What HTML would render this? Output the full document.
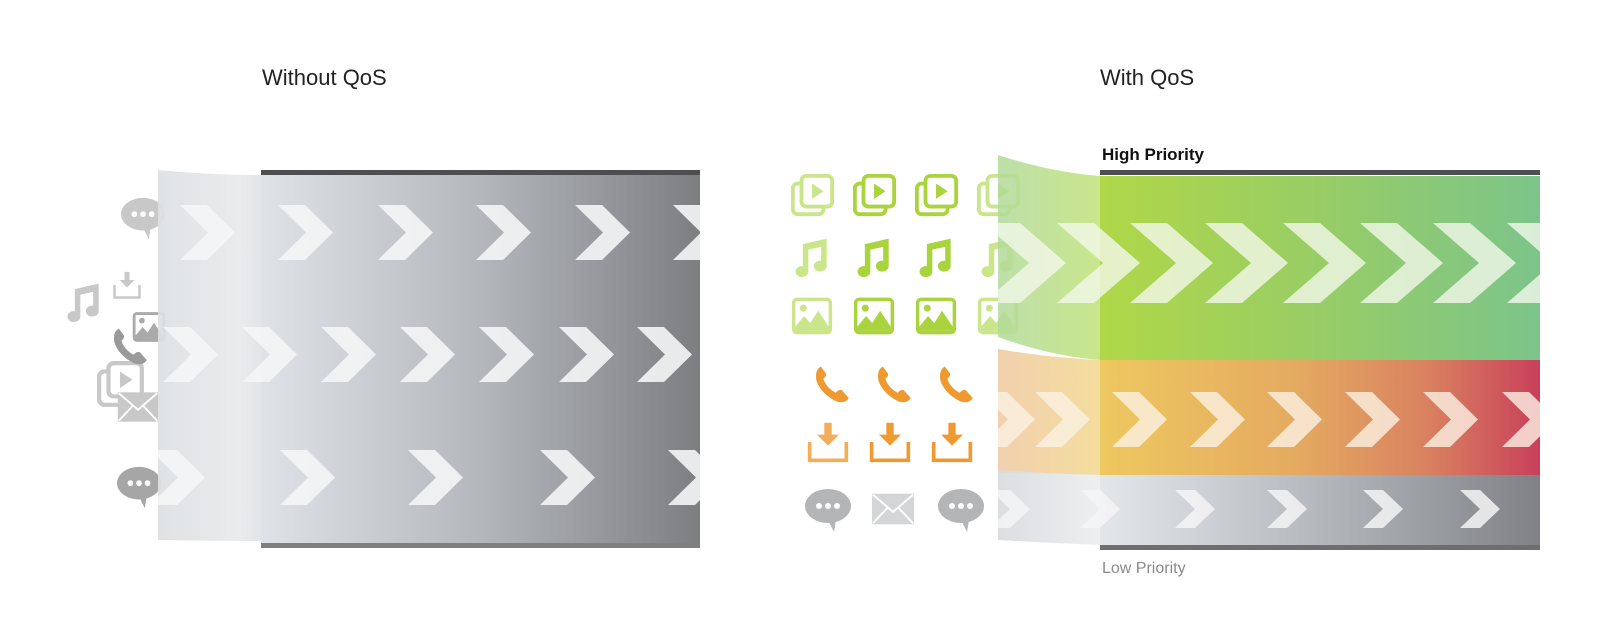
<!DOCTYPE html>
<html><head><meta charset="utf-8"><style>
html,body{margin:0;padding:0;background:#fff;width:1600px;height:634px;overflow:hidden}
svg{display:block}
text{font-family:"Liberation Sans",sans-serif}
</style></head><body>
<svg width="1600" height="634" viewBox="0 0 1600 634" xmlns="http://www.w3.org/2000/svg">
<defs>
<linearGradient id="gL" x1="0" x2="1"><stop offset="0" stop-color="#dfe2e6"/><stop offset="0.5" stop-color="#b4b7bc"/><stop offset="1" stop-color="#7c7e82"/></linearGradient>
<linearGradient id="gG" x1="0" x2="1"><stop offset="0" stop-color="#b0d748"/><stop offset="0.5" stop-color="#98cd66"/><stop offset="1" stop-color="#7cc48a"/></linearGradient>
<linearGradient id="gO" x1="0" x2="1"><stop offset="0" stop-color="#eec860"/><stop offset="0.45" stop-color="#e4aa60"/><stop offset="0.75" stop-color="#d98060"/><stop offset="1" stop-color="#c8405a"/></linearGradient>
<linearGradient id="gY" x1="0" x2="1"><stop offset="0" stop-color="#e4e7ea"/><stop offset="0.5" stop-color="#b4b8bd"/><stop offset="1" stop-color="#7f8185"/></linearGradient>
<linearGradient id="fG" x1="0" x2="1"><stop offset="0" stop-color="#b2da9a" stop-opacity="0.85"/><stop offset="1" stop-color="#c6e585" stop-opacity="0.95"/></linearGradient>
<linearGradient id="fO" x1="0" x2="1"><stop offset="0" stop-color="#f0c8a0" stop-opacity="0.85"/><stop offset="1" stop-color="#f3dc98" stop-opacity="0.95"/></linearGradient>
<linearGradient id="fY" x1="0" x2="1"><stop offset="0" stop-color="#d8dbde" stop-opacity="0.9"/><stop offset="1" stop-color="#eceef0" stop-opacity="0.95"/></linearGradient>
<linearGradient id="fL" x1="0" x2="1"><stop offset="0" stop-color="#dde0e3" stop-opacity="0.92"/><stop offset="0.8" stop-color="#e8eaec" stop-opacity="0.95"/><stop offset="1" stop-color="#e2e5e8"/></linearGradient>
<path id="c55" d="M0,0 L27,0 L55,27.5 L27,55 L0,55 L28,27.5Z"/>
<path id="cg" d="M0,0 L37,0 L83,40 L37,80 L0,80 L46,40Z"/>
<path id="cy" d="M0,0 L20,0 L40,19 L20,38 L0,38 L20,19Z"/>
<clipPath id="clL"><rect x="158" y="175" width="542" height="368"/></clipPath>
<clipPath id="clG"><path d="M998,155 Q1050,172 1100,176 L1540,176 L1540,360 L1100,360 Q1050,356 998,337 Z"/></clipPath>
<clipPath id="clO"><path d="M998,349 Q1050,358 1100,360 L1540,360 L1540,475 L998,475 Z"/></clipPath>
<clipPath id="clY"><path d="M998,470 Q1050,474 1100,475 L1540,475 L1540,545 L1100,545 Q1050,543 998,540 Z"/></clipPath>
<symbol id="video" viewBox="0 0 48 48"><rect x="3" y="11" width="32" height="32" rx="5" fill="none" stroke="currentColor" stroke-width="4"/><rect x="12" y="3" width="32" height="32" rx="5" fill="#fff" stroke="currentColor" stroke-width="4"/><path d="M23,11 L35,19 L23,27Z" fill="currentColor"/></symbol>
<symbol id="music" viewBox="0 0 48 48"><path d="M14,10 L40,4 L40,34 A7,6 0 1 1 34,28 L34,13 L20,16 L20,40 A7,6 0 1 1 14,34 Z" fill="currentColor"/></symbol>
<symbol id="image" viewBox="0 0 48 48"><rect x="3" y="5" width="42" height="38" rx="4" fill="none" stroke="currentColor" stroke-width="4"/><circle cx="14" cy="15" r="4" fill="currentColor"/><path d="M5,41 L5,36 L15,24 L22,32 L31,18 L43,36 L43,41Z" fill="currentColor"/></symbol>
<symbol id="phone" viewBox="0 0 48 48"><path d="M10,4 Q3,8 5,20 Q10,35 28,44 Q38,47 42,40 L34,31 Q30,30 27,34 Q16,28 13,18 Q17,15 16,12 Z" fill="currentColor"/></symbol>
<symbol id="dl" viewBox="0 0 48 48"><path d="M20,3 L28,3 L28,16 L36,16 L24,28 L12,16 L20,16Z" fill="currentColor"/><path d="M4,24 L4,44 L44,44 L44,24" fill="none" stroke="currentColor" stroke-width="4"/></symbol>
<symbol id="bubble" viewBox="0 0 48 48"><ellipse cx="24" cy="20" rx="23" ry="17" fill="currentColor"/><path d="M24,34 L30,46 L32,34Z" fill="currentColor"/><circle cx="15" cy="20" r="3" fill="#fff"/><circle cx="24" cy="20" r="3" fill="#fff"/><circle cx="33" cy="20" r="3" fill="#fff"/></symbol>
<symbol id="env" viewBox="0 0 48 48"><rect x="2" y="8" width="44" height="32" fill="currentColor"/><path d="M3,9 L24,27 L45,9 M3,39 L18,23 M45,39 L30,23" fill="none" stroke="#fff" stroke-width="2"/></symbol>
</defs>

<!-- titles -->
<text x="262" y="85" font-size="22" fill="#222">Without QoS</text>
<text x="1100" y="85" font-size="22" fill="#222">With QoS</text>
<text x="1102" y="160" font-size="17" fill="#111" font-weight="bold" style="font-weight:600">High Priority</text>
<text x="1102" y="573" font-size="16" fill="#8a8a8a">Low Priority</text>

<!-- left icons -->
<g style="color:#c8c8c8">
<use href="#bubble" x="120" y="192" width="46" height="52"/>
<use href="#music" x="62" y="278" width="44" height="48"/>
<use href="#dl" x="112" y="270" width="30" height="30"/>
<use href="#video" x="96" y="360" width="50" height="50"/>
<use href="#env" x="116" y="385" width="44" height="44"/>
</g>
<use href="#phone" x="110" y="322" width="42" height="48" style="color:#9a9a9a"/>
<use href="#image" x="132" y="305" width="34" height="44" style="color:#aaa"/>
<use href="#bubble" x="116" y="460" width="46" height="54" style="color:#a6a6a6"/>

<!-- left panel -->
<rect x="261" y="175" width="439" height="368" fill="url(#gL)"/>
<path d="M158,170 Q210,175 261,175 L261,541 Q210,541 158,540 Z" fill="url(#fL)"/>
<rect x="261" y="170" width="439" height="5" fill="#4e4e50"/>
<rect x="261" y="543" width="439" height="5" fill="#808082"/>
<g clip-path="url(#clL)" fill="#f4f5f6" fill-opacity="0.9">
<use href="#c55" x="180" y="205"/><use href="#c55" x="278" y="205"/><use href="#c55" x="378" y="205"/><use href="#c55" x="476" y="205"/><use href="#c55" x="575" y="205"/><use href="#c55" x="673" y="205"/>
<use href="#c55" x="163" y="327"/><use href="#c55" x="242" y="327"/><use href="#c55" x="321" y="327"/><use href="#c55" x="400" y="327"/><use href="#c55" x="479" y="327"/><use href="#c55" x="559" y="327"/><use href="#c55" x="637" y="327"/>
<use href="#c55" x="150" y="450"/><use href="#c55" x="280" y="450"/><use href="#c55" x="408" y="450"/><use href="#c55" x="540" y="450"/><use href="#c55" x="668" y="450"/>
</g>

<!-- right icons -->
<g style="color:#a9d43e">
<use href="#video" x="790" y="173" width="46" height="46" opacity="0.6"/><use href="#video" x="852" y="173" width="46" height="46"/><use href="#video" x="914" y="173" width="46" height="46"/><use href="#video" x="976" y="173" width="46" height="46" opacity="0.6"/>
<use href="#music" x="790" y="234" width="44" height="46" opacity="0.6"/><use href="#music" x="852" y="234" width="44" height="46"/><use href="#music" x="914" y="234" width="44" height="46"/><use href="#music" x="976" y="234" width="44" height="46" opacity="0.6"/>
<use href="#image" x="790" y="295" width="44" height="42" opacity="0.6"/><use href="#image" x="852" y="295" width="44" height="42"/><use href="#image" x="914" y="295" width="44" height="42"/><use href="#image" x="976" y="295" width="44" height="42" opacity="0.6"/>
</g>
<g style="color:#ef9a30">
<use href="#phone" x="812" y="360" width="42" height="48"/><use href="#phone" x="874" y="360" width="42" height="48"/><use href="#phone" x="936" y="360" width="42" height="48"/>
<use href="#dl" x="806" y="420" width="44" height="44" opacity="0.8"/><use href="#dl" x="868" y="420" width="44" height="44"/><use href="#dl" x="930" y="420" width="44" height="44"/>
</g>
<g style="color:#b4b5b7">
<use href="#bubble" x="803" y="486" width="50" height="48"/>
<use href="#env" x="868" y="486" width="50" height="46" style="color:#d4d5d6"/>
<use href="#bubble" x="936" y="486" width="50" height="48"/>
</g>

<!-- right bands -->
<rect x="1100" y="176" width="440" height="184" fill="url(#gG)"/>
<rect x="1100" y="360" width="440" height="115" fill="url(#gO)"/>
<rect x="1100" y="475" width="440" height="70" fill="url(#gY)"/>
<path d="M998,155 Q1050,172 1100,176 L1100,360 Q1050,356 998,337 Z" fill="url(#fG)"/>
<path d="M998,349 Q1050,358 1100,360 L1100,475 L998,473 Z" fill="url(#fO)"/>
<path d="M998,470 Q1050,474 1100,475 L1100,545 Q1050,543 998,540 Z" fill="url(#fY)"/>
<rect x="1100" y="170" width="440" height="5" fill="#4e4e50"/>
<rect x="1100" y="545" width="440" height="5" fill="#6e6e70"/>

<g clip-path="url(#clG)" fill="#f2f7ea" fill-opacity="0.8">
<use href="#cg" x="983" y="223"/><use href="#cg" x="1057" y="223"/><use href="#cg" x="1130" y="223"/><use href="#cg" x="1205" y="223"/><use href="#cg" x="1283" y="223"/><use href="#cg" x="1360" y="223"/><use href="#cg" x="1433" y="223"/><use href="#cg" x="1507" y="223"/>
</g>
<g clip-path="url(#clO)" fill="#fbf1e4" fill-opacity="0.8">
<use href="#c55" x="980" y="392"/><use href="#c55" x="1035" y="392"/><use href="#c55" x="1112" y="392"/><use href="#c55" x="1190" y="392"/><use href="#c55" x="1267" y="392"/><use href="#c55" x="1345" y="392"/><use href="#c55" x="1423" y="392"/><use href="#c55" x="1502" y="392"/>
</g>
<g clip-path="url(#clY)" fill="#f4f5f6" fill-opacity="0.85">
<use href="#cy" x="990" y="490"/><use href="#cy" x="1080" y="490"/><use href="#cy" x="1175" y="490"/><use href="#cy" x="1267" y="490"/><use href="#cy" x="1363" y="490"/><use href="#cy" x="1460" y="490"/>
</g>
</svg>
</body></html>
